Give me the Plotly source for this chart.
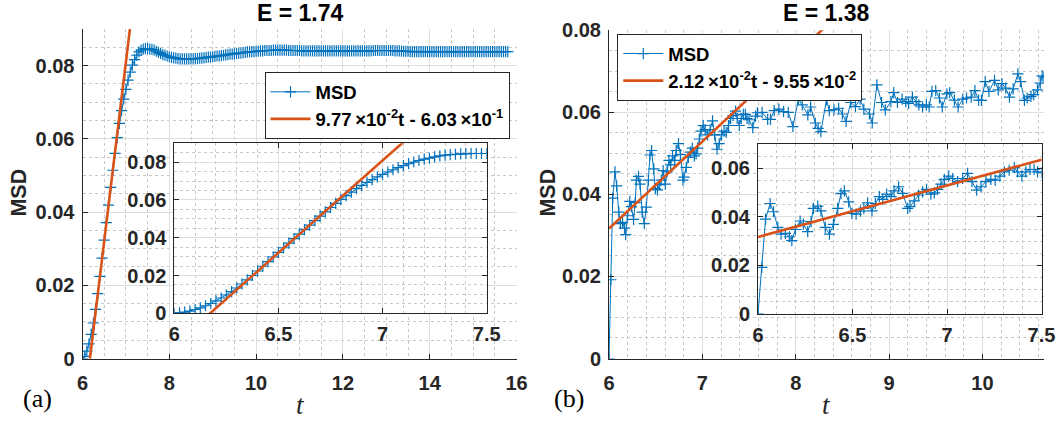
import plotly.graph_objects as go

W, H = 1059, 428
BLUE = "#0072BD"
ORANGE = "#D95319"
AX = "#262626"
FONT = "Liberation Sans"
SERIF = "Liberation Serif"

# ---------------- data: panel (a), E = 1.74 ----------------
# main plot: rise sampled every 0.05 from t=6.0, plateau every 0.05 from t=7.5
a_rise_t0, a_rise_dt = 6.0, 0.05
a_rise_msd = [0.0000, 0.0006, 0.0020, 0.0040, 0.0066, 0.0097, 0.0134, 0.0177, 0.0224, 0.0274,
              0.0323, 0.0371, 0.0419, 0.0467, 0.0514, 0.0560, 0.0603, 0.0642, 0.0677, 0.0708,
              0.0735, 0.0760, 0.0782, 0.0801, 0.0816, 0.0828, 0.0837, 0.0842, 0.0845, 0.0846]
a_plat_t0, a_plat_dt = 7.5, 0.05
a_plat_msd = [0.0846, 0.0845, 0.0844, 0.0842, 0.0839, 0.0836, 0.0833, 0.0830, 0.0828, 0.0826,
              0.0824, 0.0822, 0.0821, 0.0820, 0.0819, 0.0818, 0.0818, 0.0818, 0.0818, 0.0818,
              0.0818, 0.0818, 0.0819, 0.0819, 0.0820, 0.0820, 0.0821, 0.0822, 0.0823, 0.0823,
              0.0824, 0.0825, 0.0826, 0.0826, 0.0827, 0.0828, 0.0829, 0.0830, 0.0831, 0.0831,
              0.0832, 0.0833, 0.0834, 0.0834, 0.0835, 0.0836, 0.0837, 0.0837, 0.0838, 0.0838,
              0.0839, 0.0839, 0.0840, 0.0840, 0.0841, 0.0841, 0.0841, 0.0841, 0.0842, 0.0842,
              0.0842, 0.0842, 0.0842, 0.0842, 0.0842, 0.0841, 0.0841, 0.0841, 0.0841, 0.0841,
              0.0841, 0.0840, 0.0840, 0.0840, 0.0840, 0.0840, 0.0840, 0.0840, 0.0840, 0.0840,
              0.0840, 0.0840, 0.0840, 0.0840, 0.0840, 0.0840, 0.0840, 0.0840, 0.0840, 0.0840,
              0.0840, 0.0840, 0.0840, 0.0840, 0.0840, 0.0840, 0.0840, 0.0840, 0.0840, 0.0840,
              0.0840, 0.0840, 0.0840, 0.0840, 0.0841, 0.0841, 0.0841, 0.0841, 0.0841, 0.0841,
              0.0841, 0.0841, 0.0841, 0.0841, 0.0840, 0.0840, 0.0840, 0.0839, 0.0839, 0.0839,
              0.0839, 0.0838, 0.0838, 0.0838, 0.0838, 0.0838, 0.0838, 0.0838, 0.0838, 0.0838,
              0.0838, 0.0838, 0.0838, 0.0838, 0.0838, 0.0838, 0.0838, 0.0838, 0.0838, 0.0838,
              0.0838, 0.0838, 0.0838, 0.0838, 0.0838, 0.0838, 0.0838, 0.0838, 0.0838, 0.0838,
              0.0838, 0.0838, 0.0838, 0.0838, 0.0838, 0.0838, 0.0838, 0.0838, 0.0838, 0.0838,
              0.0838, 0.0838, 0.0838, 0.0838, 0.0838, 0.0838, 0.0838]
# inset: sampled every 0.025 from t=6.0 to 7.5
a_in_t0, a_in_dt = 6.0, 0.025
a_in_msd = [0.0000, 0.0002, 0.0006, 0.0012, 0.0020, 0.0029, 0.0040, 0.0052, 0.0066, 0.0081,
            0.0097, 0.0115, 0.0134, 0.0155, 0.0177, 0.0200, 0.0224, 0.0249, 0.0274, 0.0298,
            0.0323, 0.0347, 0.0371, 0.0395, 0.0419, 0.0443, 0.0467, 0.0491, 0.0514, 0.0537,
            0.0560, 0.0582, 0.0603, 0.0623, 0.0642, 0.0660, 0.0677, 0.0693, 0.0708, 0.0722,
            0.0735, 0.0748, 0.0760, 0.0771, 0.0782, 0.0792, 0.0801, 0.0809, 0.0816, 0.0822,
            0.0828, 0.0833, 0.0837, 0.0840, 0.0842, 0.0844, 0.0845, 0.0846, 0.0846, 0.0846,
            0.0846]
a_slope, a_icpt = 9.77e-2, -6.03e-1
a_fit_t = [6.0, 16.0]
a_label = "9.77\u2009×10<sup>-2</sup>t - 6.03\u2009×10<sup>-1</sup>"

# ---------------- data: panel (b), E = 1.38 ----------------
b_t = [6.0, 6.02, 6.04, 6.064, 6.082, 6.105, 6.122, 6.145, 6.166, 6.179, 6.198, 6.223, 6.24, 6.263,
       6.281, 6.293, 6.316, 6.333, 6.356, 6.378, 6.399, 6.422, 6.439, 6.457, 6.48, 6.497, 6.519,
       6.542, 6.56, 6.58, 6.603, 6.621, 6.642, 6.66, 6.681, 6.704, 6.72, 6.744, 6.765, 6.792,
       6.804, 6.827, 6.85, 6.871, 6.892, 6.915, 6.933, 6.95, 6.968, 6.986, 7.009, 7.03, 7.056,
       7.083, 7.109, 7.132, 7.157, 7.18, 7.206, 7.232, 7.255, 7.28, 7.303, 7.329, 7.356, 7.373,
       7.396, 7.417, 7.439, 7.461, 7.479, 7.5,
       7.54, 7.57, 7.59, 7.64, 7.70, 7.73, 7.77, 7.82, 7.87, 7.92, 7.97, 8.03, 8.07, 8.13, 8.16,
       8.21, 8.24, 8.27, 8.33, 8.36, 8.41, 8.46, 8.50, 8.54, 8.59, 8.64, 8.69, 8.73, 8.79, 8.82,
       8.87, 8.92, 8.96, 9.02, 9.05, 9.09, 9.14, 9.18, 9.21, 9.25, 9.29, 9.32, 9.36, 9.40, 9.43,
       9.46, 9.50, 9.54, 9.57, 9.62, 9.65, 9.70, 9.74, 9.79, 9.83, 9.88, 9.92, 9.96, 9.99, 10.03,
       10.07, 10.13, 10.17, 10.21, 10.25, 10.29, 10.33, 10.38, 10.41, 10.45, 10.48, 10.52, 10.55,
       10.59, 10.62, 10.64, 10.66]
b_msd = [0.0, 0.0192, 0.0391, 0.0455, 0.0421, 0.0357, 0.0329, 0.0332, 0.0318, 0.0302, 0.0348,
         0.0383, 0.0370, 0.0339, 0.0380, 0.0435, 0.0444, 0.0425, 0.0357, 0.0329, 0.0369, 0.0435,
         0.0496, 0.0507, 0.0462, 0.0414, 0.0411, 0.0424, 0.0435, 0.0458, 0.0425, 0.0455, 0.0483,
         0.0472, 0.0494, 0.0483, 0.0507, 0.0524, 0.0497, 0.0435, 0.0442, 0.0466, 0.0490, 0.0503,
         0.0513, 0.0494, 0.0499, 0.0513, 0.0535, 0.0554, 0.0568, 0.0558, 0.0545, 0.0558, 0.0579,
         0.0545, 0.0510, 0.0524, 0.0545, 0.0554, 0.0551, 0.0568, 0.0585, 0.0592, 0.0603, 0.0585,
         0.0568, 0.0585, 0.0595, 0.0595, 0.0585, 0.0582,
         0.0563, 0.0591, 0.0599, 0.0600, 0.0583, 0.0583, 0.0604, 0.0608, 0.0602, 0.0600, 0.0565,
         0.0633, 0.0618, 0.0594, 0.0613, 0.0574, 0.0561, 0.0553, 0.0631, 0.0604, 0.0606, 0.0610,
         0.0596, 0.0578, 0.0624, 0.0614, 0.0632, 0.0608, 0.0596, 0.0574, 0.0667, 0.0624, 0.0606,
         0.0626, 0.0648, 0.0624, 0.0632, 0.0626, 0.0622, 0.0637, 0.0626, 0.0618, 0.0613, 0.0618,
         0.0613, 0.0651, 0.0653, 0.0635, 0.0613, 0.0645, 0.0648, 0.0630, 0.0613, 0.0632, 0.0635,
         0.0637, 0.0653, 0.0630, 0.0629, 0.0675, 0.0651, 0.0678, 0.0655, 0.0670, 0.0659, 0.0637,
         0.0657, 0.0694, 0.0675, 0.0629, 0.0635, 0.0639, 0.0643, 0.0655, 0.0671, 0.0689, 0.0686]
b_inset_tmax = 7.5
b_slope, b_icpt = 2.12e-2, -9.55e-2
b_fit_t = [6.0, 10.66]
b_label = "2.12\u2009×10<sup>-2</sup>t - 9.55\u2009×10<sup>-2</sup>"

titles = ["E = 1.74", "E = 1.38"]
panel_tags = ["(a)", "(b)"]

# ---------------- build ----------------
a_main_t = [a_rise_t0 + a_rise_dt * i for i in range(len(a_rise_msd))] + \
           [a_plat_t0 + a_plat_dt * i for i in range(len(a_plat_msd))]
a_main_y = a_rise_msd + a_plat_msd
a_in_t = [a_in_t0 + a_in_dt * i for i in range(len(a_in_msd))]
b_in_t = [t for t in b_t if t <= b_inset_tmax + 1e-9]
b_in_y = b_msd[:len(b_in_t)]


def fit(ts, s, c):
    return [s * t + c for t in ts]


def hx(a, b):
    return [a / W, b / W]


def vy(top, bottom):
    return [1 - bottom / H, 1 - top / H]


fig = go.Figure()

msd_style = dict(mode="lines+markers", line=dict(color=BLUE, width=1),
                 marker=dict(symbol="cross-thin", size=8, line=dict(color=BLUE, width=1.2)))
fit_style = dict(mode="lines", line=dict(color=ORANGE, width=2.6))

fig.add_trace(go.Scatter(x=a_main_t, y=a_main_y, name="MSD", xaxis="x", yaxis="y", legend="legend", **msd_style))
fig.add_trace(go.Scatter(x=a_fit_t, y=fit(a_fit_t, a_slope, a_icpt), name=a_label, xaxis="x", yaxis="y", legend="legend", **fit_style))
fig.add_trace(go.Scatter(x=a_in_t, y=a_in_msd, xaxis="x2", yaxis="y2", showlegend=False, **msd_style))
fig.add_trace(go.Scatter(x=a_fit_t, y=fit(a_fit_t, a_slope, a_icpt), xaxis="x2", yaxis="y2", showlegend=False, **fit_style))
fig.add_trace(go.Scatter(x=b_t, y=b_msd, name="MSD", xaxis="x3", yaxis="y3", legend="legend2", **msd_style))
fig.add_trace(go.Scatter(x=b_fit_t, y=fit(b_fit_t, b_slope, b_icpt), name=b_label, xaxis="x3", yaxis="y3", legend="legend2", **fit_style))
fig.add_trace(go.Scatter(x=b_in_t, y=b_in_y, xaxis="x4", yaxis="y4", showlegend=False, **msd_style))
fig.add_trace(go.Scatter(x=b_fit_t, y=fit(b_fit_t, b_slope, b_icpt), xaxis="x4", yaxis="y4", showlegend=False, **fit_style))

tickfont = dict(family=FONT, size=20, color=AX, weight="bold")


def axis(domain, rng, dtick, minor, anchor, mirror, standoff):
    return dict(domain=domain, range=rng, dtick=dtick, tick0=0, anchor=anchor, automargin=False,
                showline=True, linecolor=AX, linewidth=1, mirror=mirror,
                ticks="inside", ticklen=5, tickcolor=AX, tickwidth=1,
                showgrid=True, gridcolor="#dedede", gridwidth=1, zeroline=False,
                minor=dict(dtick=minor, showgrid=True, gridcolor="#c8c8c8", griddash="dot", gridwidth=1, ticks=""),
                tickfont=tickfont, ticklabelstandoff=standoff, fixedrange=True)


legfont = dict(family=FONT, size=18.5, color="black", weight="bold")
fig.update_layout(
    width=W, height=H, margin=dict(l=0, r=0, t=0, b=0, autoexpand=False),
    paper_bgcolor="white", plot_bgcolor="white",
    xaxis=axis(hx(82.5, 516.5), [6, 16], 2, 0.5, "y", False, 6),
    yaxis=axis(vy(28.9, 358.5), [0, 0.09], 0.02, 0.005, "x", False, 3),
    xaxis2=axis(hx(174.3, 486.7), [6, 7.5], 0.5, 0.1, "y2", "allticks", 3),
    yaxis2=axis(vy(143.3, 313.3), [0, 0.09], 0.02, 0.005, "x2", "allticks", 3),
    xaxis3=axis(hx(609, 1044), [6, 10.66], 1, 0.2, "y3", False, 6),
    yaxis3=axis(vy(30.3, 358.5), [0, 0.08], 0.02, 0.005, "x3", False, 3),
    xaxis4=axis(hx(758, 1041.5), [6, 7.5], 0.5, 0.1, "y4", "allticks", 3),
    yaxis4=axis(vy(144, 314), [0, 0.07], 0.02, 0.005, "x4", "allticks", 3),
    legend=dict(x=264.5 / W, y=1 - 72.3 / H, xanchor="left", yanchor="top",
                bgcolor="white", bordercolor=AX, borderwidth=1, itemwidth=40, font=legfont),
    legend2=dict(x=617.3 / W, y=1 - 34 / H, xanchor="left", yanchor="top",
                 bgcolor="white", bordercolor=AX, borderwidth=1, itemwidth=40, font=legfont),
)

ann = []
for title, cx in zip(titles, [300, 827]):
    ann.append(dict(text=title, x=cx / W, y=1 - 13 / H, xref="paper", yref="paper",
                    showarrow=False, xanchor="center", yanchor="middle",
                    font=dict(family=FONT, size=23, color="black", weight="bold")))
for cx in [18.6, 547.6]:
    ann.append(dict(text="MSD", x=cx / W, y=1 - 193 / H, xref="paper", yref="paper", textangle=-90,
                    showarrow=False, xanchor="center", yanchor="middle",
                    font=dict(family=FONT, size=21.5, color=AX, weight="bold")))
for cx in [300, 827]:
    ann.append(dict(text="<i>t</i>", x=cx / W, y=1 - 405 / H, xref="paper", yref="paper",
                    showarrow=False, xanchor="center", yanchor="middle",
                    font=dict(family=SERIF, size=27, color=AX)))
for tag, cx in zip(panel_tags, [37, 569]):
    ann.append(dict(text=tag, x=cx / W, y=1 - 398 / H, xref="paper", yref="paper",
                    showarrow=False, xanchor="center", yanchor="middle",
                    font=dict(family=SERIF, size=26, color="black")))
fig.update_layout(annotations=ann)

fig.write_html("out.html", config={"displayModeBar": False},
               post_script="document.body.style.margin='0';document.body.style.overflow='hidden';")
